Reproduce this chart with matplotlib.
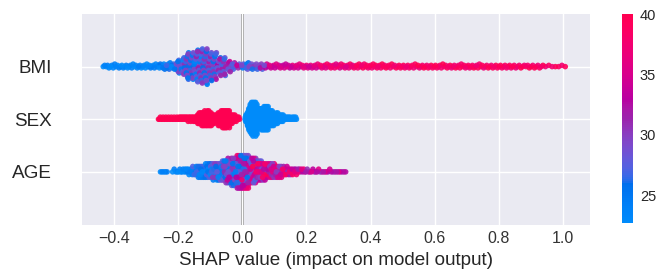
import numpy as np
import matplotlib
matplotlib.use("Agg")
import matplotlib.pyplot as plt
from matplotlib.colors import ListedColormap, Normalize
from matplotlib.cm import ScalarMappable

# ---------------- data ----------------
features = ["AGE", "SEX", "BMI"]          # bottom -> top rows
xticks = [-0.4, -0.2, 0.0, 0.2, 0.4, 0.6, 0.8, 1.0]
cbar_ticks = [25, 30, 35, 40]
cbar_range = (22.7, 40.0)

# Each row: histogram of SHAP values (bin edges, number of samples per bin)
# and the range of feature values (colour scale) seen inside each bin.
bmi_edges = [-0.436, -0.36, -0.30, -0.26, -0.21, -0.185, -0.148, -0.11, -0.085,
             -0.054, -0.03, 0.0, 0.03, 0.07, 0.15, 0.25, 0.35, 0.45, 0.55, 0.65,
             0.75, 0.85, 0.94, 1.012]
bmi_counts = [17, 14, 10, 18, 20, 56, 75, 41, 34, 14, 8, 12, 13, 19, 23, 25, 25,
              22, 22, 23, 21, 17, 7]
bmi_lo = [22.7, 22.7, 22.7, 23, 23, 23, 23.5, 24, 25, 27, 27, 24, 26, 33, 34,
          35, 37, 37, 37, 37, 37, 37, 37]
bmi_hi = [24.5, 24.5, 25, 27, 30, 31.5, 32, 32.5, 33.5, 35, 35, 30, 33, 36, 38,
          39, 40, 40, 40, 40, 40, 40, 40]

sex_edges = [-0.263, -0.20, -0.17, -0.15, -0.14, -0.13, -0.115, -0.097, -0.088,
             -0.078, -0.065, -0.05, -0.04, -0.03, -0.02, -0.008,
             0.008, 0.015, 0.022, 0.045, 0.06, 0.081, 0.095, 0.11, 0.128, 0.15, 0.17]
sex_counts = [22, 14, 12, 8, 14, 26, 32, 10, 9, 22, 32, 20, 12, 8, 6, 0,
              8, 18, 88, 36, 58, 26, 20, 16, 10, 8]
sex_lo = [40] * 16 + [22.7] * 10
sex_hi = [40] * 16 + [22.7] * 10

age_edges = [-0.258, -0.232, -0.22, -0.20, -0.18, -0.16, -0.14, -0.12, -0.10,
             -0.08, -0.06, -0.04, -0.02, 0.0, 0.02, 0.04, 0.06, 0.08, 0.10,
             0.12, 0.14, 0.16, 0.18, 0.20, 0.24, 0.28, 0.325]
age_counts = [5, 0, 4, 6, 8, 13, 18, 20, 23, 25, 32, 37, 45, 45, 35, 28, 23, 20,
              18, 13, 10, 8, 6, 9, 8, 8]
age_lo = [22.7, 22.7, 22.7, 22.7, 22.7, 23, 23, 23, 23, 23, 24, 24, 25, 25, 27,
          27, 29, 29, 29, 31, 31, 31, 31, 31, 31, 31]
age_hi = [25, 25, 25, 25, 25, 28, 28, 28, 31, 31, 34, 34, 38, 38, 40, 40, 40,
          40, 40, 39, 39, 39, 39, 36, 36, 36]


# ---------------- SHAP "red_blue" colormap (LCH interpolation) ----------------
def lch_to_rgb(l, c, h):
    a = c * np.cos(h)
    b = c * np.sin(h)
    fy = (l + 16.0) / 116.0
    fx = a / 500.0 + fy
    fz = fy - b / 200.0

    def finv(t):
        return np.where(t > 0.2068966, t ** 3, (t - 16.0 / 116.0) / 7.787)

    xyz = np.array([0.95047 * finv(fx), finv(fy), 1.08883 * finv(fz)])
    m = np.array([[3.24048134, -1.53715152, -0.49853633],
                  [-0.96925495, 1.87599, 0.04155593],
                  [0.05564664, -0.20404134, 1.05731107]])
    rgb = m @ xyz
    rgb = np.where(rgb > 0.0031308,
                   1.055 * np.power(np.clip(rgb, 0, None), 1 / 2.4) - 0.055,
                   12.92 * rgb)
    return np.clip(rgb, 0, 1)


blue_lch = [54.0, 70.0, 4.6588]
red_lch = [54.0, 90.0, 0.35470565 + 2 * np.pi]
l_mid = 40.0
nsteps = 100
l_vals = list(np.linspace(blue_lch[0], l_mid, nsteps // 2)) + \
    list(np.linspace(l_mid, red_lch[0], nsteps // 2))
c_vals = np.linspace(blue_lch[1], red_lch[1], nsteps)
h_vals = np.linspace(blue_lch[2], red_lch[2], nsteps)
red_blue = ListedColormap([lch_to_rgb(l, c, h) for l, c, h in zip(l_vals, c_vals, h_vals)])


# ---------------- expand bins to samples and lay them out as a beeswarm ----------------
def expand(edges, counts, lo, hi):
    xs, cs = [], []
    for i, n in enumerate(counts):
        if n == 0:
            continue
        a, b = edges[i], edges[i + 1]
        xs.append(a + (b - a) * (np.arange(n) + 0.5) / n)
        frac = (np.arange(n) * 0.6180339887) % 1.0
        cs.append(lo[i] + (hi[i] - lo[i]) * frac)
    return np.concatenate(xs), np.concatenate(cs)


def swarm(shaps, row_height=0.4, nbins=100):
    n = len(shaps)
    quant = np.round(nbins * (shaps - shaps.min()) / (shaps.max() - shaps.min() + 1e-8))
    inds = np.argsort(quant, kind="stable")
    layer, last = 0, -1
    ys = np.zeros(n)
    for ind in inds:
        if quant[ind] != last:
            layer = 0
        ys[ind] = np.ceil(layer / 2) * ((layer % 2) * 2 - 1)
        layer += 1
        last = quant[ind]
    ys *= 0.9 * (row_height / np.max(ys + 1))
    return ys


rows = [(age_edges, age_counts, age_lo, age_hi),
        (sex_edges, sex_counts, sex_lo, sex_hi),
        (bmi_edges, bmi_counts, bmi_lo, bmi_hi)]

# ---------------- figure ----------------
W, H = 664, 277
fig = plt.figure(figsize=(W / 100, H / 100), dpi=100)
fig.patch.set_facecolor("white")

ax_l, ax_r, ax_t, ax_b = 82, 590, 14, 224.5
ax = fig.add_axes([ax_l / W, (H - ax_b) / H, (ax_r - ax_l) / W, (ax_b - ax_t) / H])
ax.set_facecolor("#EAEAF2")
ax.set_axisbelow(True)
ax.grid(True, color="white", linewidth=1.0, zorder=0.5)
for s in ax.spines.values():
    s.set_visible(False)

ax.axvline(0, color="#999999", linewidth=2.0, zorder=0.4)

norm = Normalize(vmin=cbar_range[0], vmax=cbar_range[1])
for pos, (edges, counts, lo, hi) in enumerate(rows):
    x, c = expand(edges, counts, lo, hi)
    y = swarm(x)
    order = np.argsort((np.arange(len(x)) * 0.7548776662) % 1.0)
    ax.scatter(x[order], pos + y[order], c=c[order], cmap=red_blue, norm=norm,
               s=16, linewidths=0, alpha=0.9, zorder=3)

ax.set_xlim(-0.5, 1.084)
ax.set_ylim(-1, len(features))
ax.set_xticks(xticks)
ax.set_xticklabels([f"{t:.1f}".replace("-", "\u2212") for t in xticks])
ax.set_yticks(range(len(features)))
ax.set_yticklabels(features)
ax.tick_params(axis="x", length=0, pad=5, labelsize=11.5, labelcolor="#333333")
ax.tick_params(axis="y", length=0, pad=22, labelsize=13.6, labelcolor="#262626")
for lab in ax.get_xticklabels() + ax.get_yticklabels():
    lab.set_fontfamily("Liberation Sans")
ax.set_xlabel("SHAP value (impact on model output)", fontsize=13.6,
              color="#262626", family="Liberation Sans", labelpad=4)

# colorbar
cb_l, cb_r, cb_t, cb_b = 622, 633, 14, 223
cax = fig.add_axes([cb_l / W, (H - cb_b) / H, (cb_r - cb_l) / W, (cb_b - cb_t) / H])
sm = ScalarMappable(norm=norm, cmap=red_blue)
cb = fig.colorbar(sm, cax=cax, ticks=cbar_ticks)
cb.outline.set_visible(False)
cb.ax.tick_params(length=0, pad=5, labelsize=10.5, labelcolor="#262626")
for lab in cb.ax.get_yticklabels():
    lab.set_fontfamily("Liberation Sans")

fig.savefig("out.png", dpi=100)
